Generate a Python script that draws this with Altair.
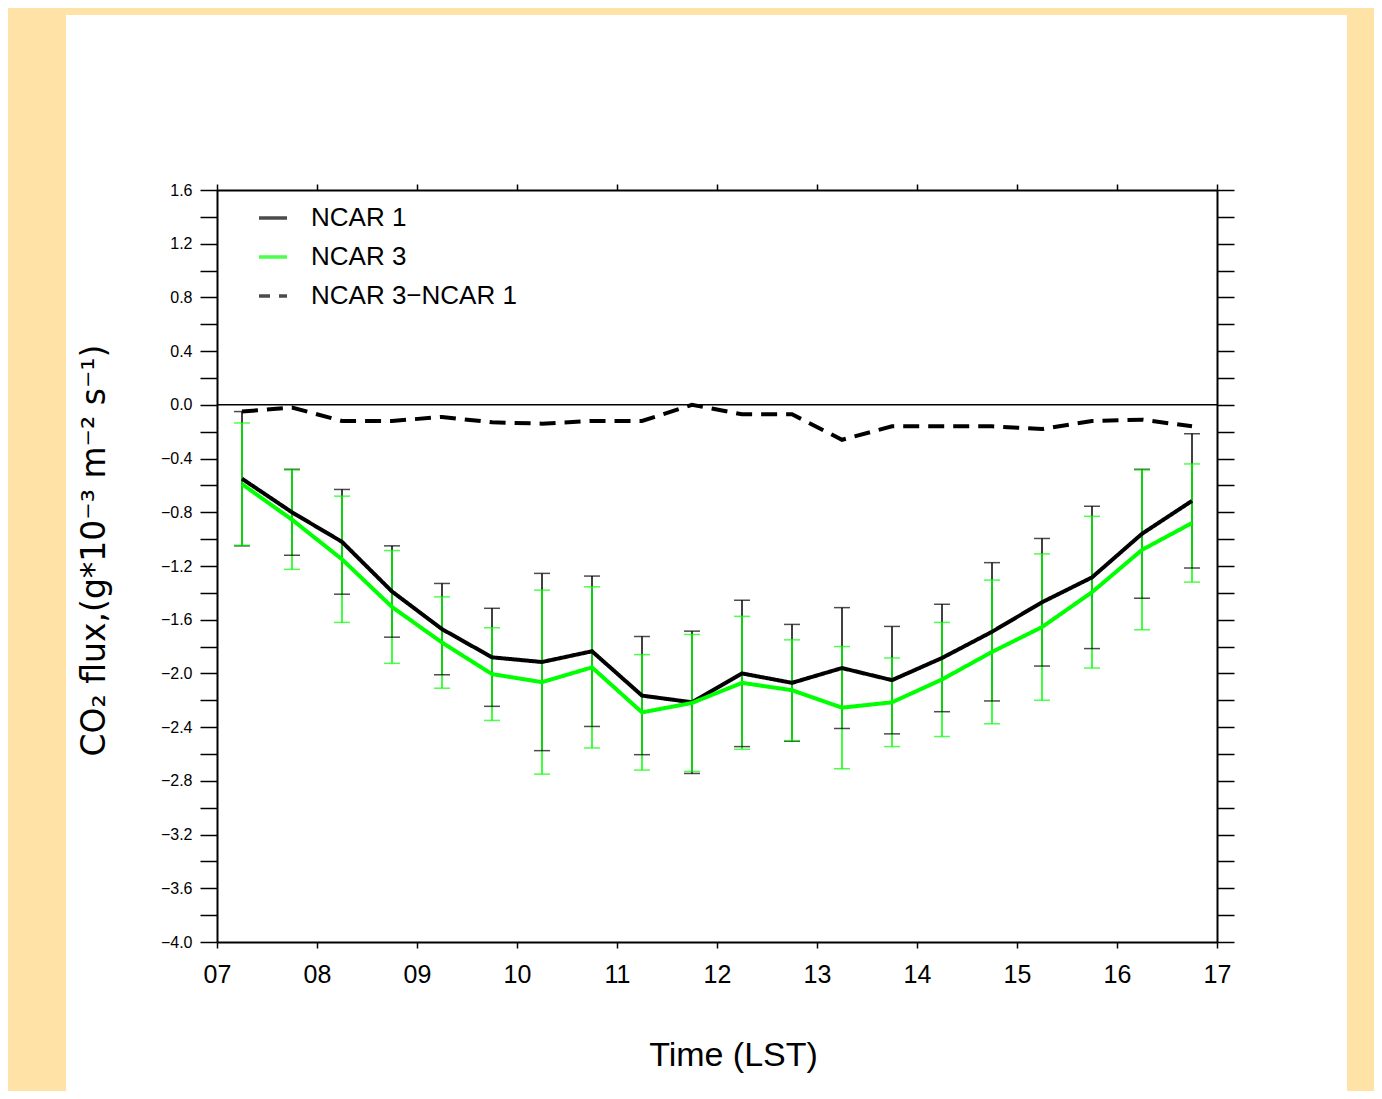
import altair as alt
import pandas as pd

# ---------------- data ----------------
hours = [7.25, 7.75, 8.25, 8.75, 9.25, 9.75, 10.25, 10.75, 11.25, 11.75,
         12.25, 12.75, 13.25, 13.75, 14.25, 14.75, 15.25, 15.75, 16.25, 16.75]

ncar1 = [-0.55, -0.80, -1.02, -1.39, -1.67, -1.88, -1.915, -1.835, -2.165, -2.215,
         -2.00, -2.07, -1.96, -2.05, -1.885, -1.69, -1.47, -1.285, -0.96, -0.715]
ncar1_err = [0.50, 0.32, 0.39, 0.34, 0.34, 0.365, 0.66, 0.56, 0.44, 0.53,
             0.545, 0.435, 0.45, 0.40, 0.40, 0.515, 0.475, 0.53, 0.48, 0.50]

ncar3 = [-0.59, -0.855, -1.15, -1.505, -1.77, -2.005, -2.065, -1.955, -2.29, -2.22,
         -2.07, -2.125, -2.255, -2.215, -2.045, -1.84, -1.655, -1.395, -1.08, -0.88]
ncar3_err = [0.455, 0.37, 0.47, 0.42, 0.34, 0.345, 0.685, 0.60, 0.43, 0.51,
             0.495, 0.375, 0.455, 0.33, 0.425, 0.535, 0.545, 0.565, 0.595, 0.44]

diff = [-0.05, -0.02, -0.12, -0.12, -0.09, -0.13, -0.14, -0.12, -0.12, 0.0,
        -0.07, -0.07, -0.26, -0.16, -0.16, -0.16, -0.18, -0.12, -0.11, -0.16]

series_names = ["NCAR 1", "NCAR 3", "NCAR 3\u2212NCAR 1"]
series_colors = ["#000000", "#00ff00", "#000000"]
series_dash = [[1, 0], [1, 0], [16, 9]]

x_ticks = [7, 8, 9, 10, 11, 12, 13, 14, 15, 16, 17]
y_ticks = [round(-4.0 + 0.2 * i, 1) for i in range(29)]

# ---------------- tables ----------------
rows = []
for name, vals in zip(series_names, [ncar1, ncar3, diff]):
    for h, v in zip(hours, vals):
        rows.append({"series": name, "hour": h, "value": v})
lines_df = pd.DataFrame(rows)

err_rows = []
for vals, errs, col in [(ncar1, ncar1_err, "#000000"), (ncar3, ncar3_err, "#00ff00")]:
    for h, v, e in zip(hours, vals, errs):
        err_rows.append({"hour": h, "lo": v - e, "hi": v + e, "hex": col})
err_df = pd.DataFrame(err_rows)

FONT = "Liberation Sans, DejaVu Sans"

xs = alt.Scale(domain=[7, 17], nice=False, zero=False)
ys = alt.Scale(domain=[-4.0, 1.6], nice=False, zero=False)

x_axis = alt.Axis(
    orient="bottom", values=x_ticks, labelExpr="format(datum.value, '02d')",
    title="Time (LST)", titleFont=FONT, titleFontSize=34, titleFontWeight="normal",
    titleX=516, titleY=113, titleBaseline="middle", titleAlign="center",
    labelFont=FONT, labelFontSize=25, labelPadding=14, labelColor="black",
    tickSize=6, tickWidth=1.5, tickColor="black",
    domainColor="black", domainWidth=2, grid=False, zindex=1, labelFlush=False,
    labelOverlap=False,
)
y_axis = alt.Axis(
    orient="left", values=y_ticks,
    labelExpr="abs(round(datum.value * 10)) % 4 == 0 ? format(datum.value, '.1f') : ''",
    title="CO\u2082  flux,(g*10\u207b\u00b3  m\u207b\u00b2  s\u207b\u00b9)",
    titleFont="DejaVu Sans", titleFontSize=33, titleFontWeight="normal",
    titleX=-123, titleY=360, titleAngle=-90, titleBaseline="middle", titleAlign="center",
    titleLimit=800,
    labelFont=FONT, labelFontSize=16, labelPadding=8, labelColor="black",
    tickSize=17, tickWidth=1.5, tickColor="black",
    domainColor="black", domainWidth=2, grid=False, zindex=1, labelOverlap=False,
    labelFlush=False,
)
top_axis = alt.Axis(
    orient="top", values=x_ticks, labels=False, title=None,
    tickSize=6, tickWidth=1.5, tickColor="black",
    domainColor="black", domainWidth=2, grid=False, zindex=1,
)
right_axis = alt.Axis(
    orient="right", values=y_ticks, labels=False, title=None,
    tickSize=17, tickWidth=1.5, tickColor="black",
    domainColor="black", domainWidth=2, grid=False, zindex=1,
)

legend = alt.Legend(
    orient="none", legendX=40, legendY=12, title=None,
    symbolType="stroke", symbolSize=784, symbolStrokeWidth=3.5, symbolOpacity=1,
    symbolDashOffset=5,
    labelFont=FONT, labelFontSize=26, labelColor="black", labelOffset=22,
    labelLimit=500, rowPadding=10, padding=0, zindex=1,
)

X = alt.X("hour:Q", scale=xs, axis=x_axis)

err_rule = alt.Chart(err_df).mark_rule(strokeWidth=1.5).encode(
    x=X, y=alt.Y("lo:Q", scale=ys, axis=y_axis), y2="hi:Q",
    color=alt.Color("hex:N", scale=None),
)
cap_lo = alt.Chart(err_df).mark_tick(orient="horizontal", size=16, thickness=1.5).encode(
    x=X, y=alt.Y("lo:Q", scale=ys, axis=y_axis), color=alt.Color("hex:N", scale=None),
)
cap_hi = alt.Chart(err_df).mark_tick(orient="horizontal", size=16, thickness=1.5).encode(
    x=X, y=alt.Y("hi:Q", scale=ys, axis=y_axis), color=alt.Color("hex:N", scale=None),
)
zero_line = alt.Chart(pd.DataFrame({"z": [0.0]})).mark_rule(color="black", strokeWidth=1.5).encode(
    y=alt.Y("z:Q", scale=ys, axis=y_axis),
)
lines = alt.Chart(lines_df).mark_line(strokeWidth=4).encode(
    x=X,
    y=alt.Y("value:Q", scale=ys, axis=y_axis),
    color=alt.Color("series:N", scale=alt.Scale(domain=series_names, range=series_colors),
                    legend=legend, sort=series_names),
    strokeDash=alt.StrokeDash("series:N", scale=alt.Scale(domain=series_names, range=series_dash),
                              legend=legend, sort=series_names),
    order="hour:Q",
)

data_layer = alt.layer(zero_line, err_rule, cap_lo, cap_hi, lines)

frame = alt.Chart(pd.DataFrame({"hour": [7.0], "v": [0.0]})).mark_point(opacity=0).encode(
    x=alt.X("hour:Q", scale=xs, axis=top_axis),
    y=alt.Y("v:Q", scale=ys, axis=right_axis),
)

panel = alt.Chart(pd.DataFrame({"a": [0]})).mark_rect(color="white").encode(
    x=alt.value(-151), x2=alt.value(1130), y=alt.value(-175), y2=alt.value(905),
)

chart = alt.layer(panel, frame, data_layer).resolve_scale(
    x="independent", y="independent"
).properties(
    width=1000, height=752,
    padding={"left": 209, "top": 182, "right": 157, "bottom": 149},
    autosize=alt.AutoSizeParams(type="none"),
    background="#fee2a6",
).configure_view(strokeWidth=0)

chart.save("out.html", embed_options={"renderer": "svg", "actions": False})
